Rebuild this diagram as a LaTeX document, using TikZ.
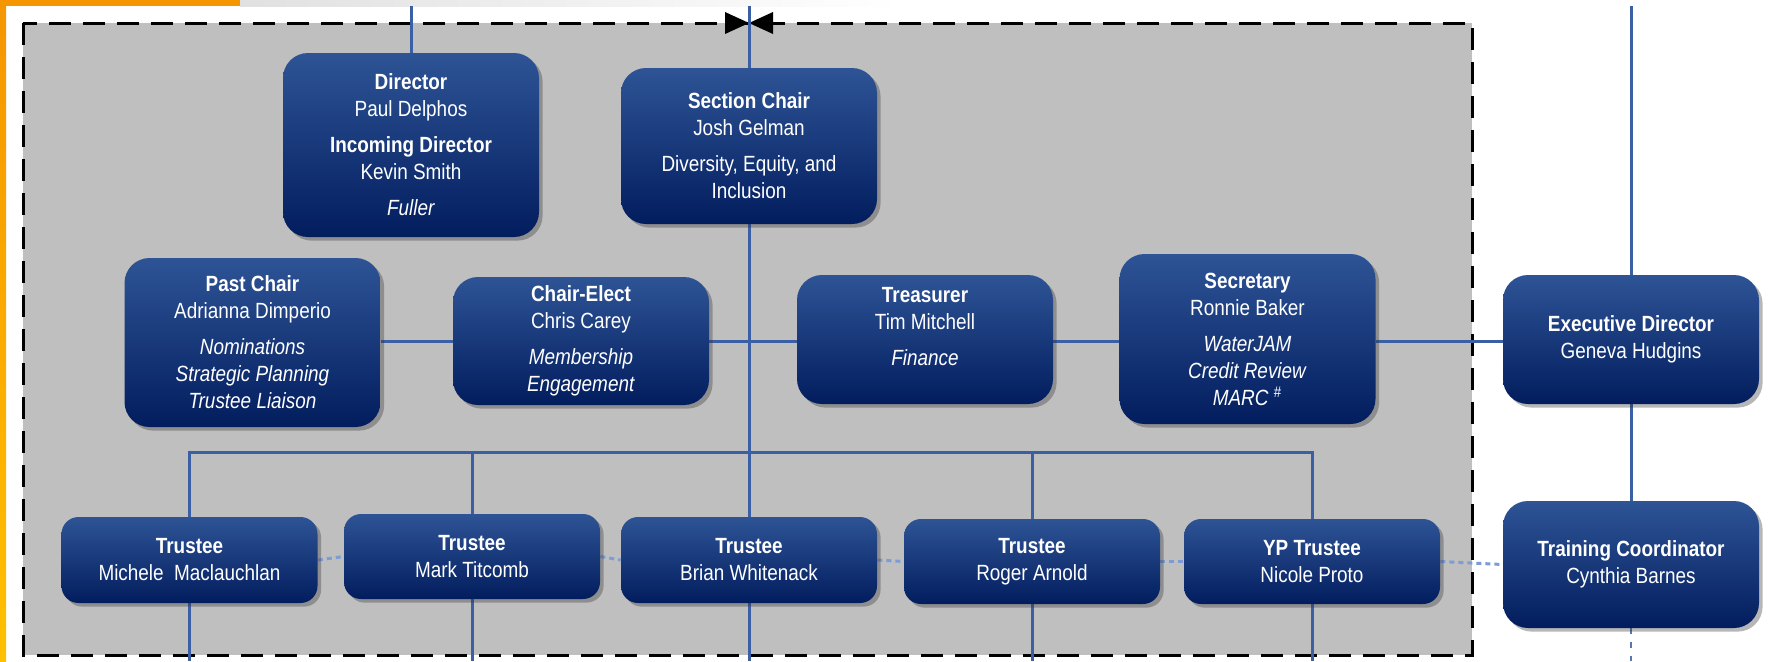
\documentclass[tikz,border=0pt]{standalone}
\usepackage{fontspec}
\setmainfont{Liberation Sans}[FakeStretch=0.86]
\usetikzlibrary{shadows}
\definecolor{boxtop}{RGB}{46,84,150}
\definecolor{boxbot}{RGB}{2,29,94}
\definecolor{linecol}{RGB}{58,95,165}
\definecolor{dotcol}{RGB}{125,155,212}
\definecolor{panel}{RGB}{191,191,191}
\definecolor{orng}{RGB}{245,150,0}
\definecolor{yel}{RGB}{255,192,0}
\pgfdeclarelayer{bg}
\pgfdeclarelayer{lines}
\pgfsetlayers{bg,lines,main}
\begin{document}
\begin{tikzpicture}[x=0.5pt,y=-0.5pt,
  orgbox/.style={rounded corners=12.5pt, top color=boxtop, bottom color=boxbot,
    draw=none, text=white, align=center, inner sep=0pt,
    font=\fontsize{11}{13.5}\selectfont, minimum width=128pt,
    drop shadow={shadow xshift=1.8pt,shadow yshift=-1.8pt,opacity=0.35,fill=black!80}},
  smallbox/.style={orgbox, rounded corners=8.5pt},
  conn/.style={draw=linecol, line width=1.5pt},
  dotline/.style={draw=dotcol, line width=1.5pt, dash pattern=on 2.5pt off 2pt},
  taildash/.style={draw=linecol!85, line width=0.9pt, dash pattern=on 3pt off 4pt},
  border/.style={draw=black, line width=1.5pt, dash pattern=on 11pt off 6pt}
]
\useasboundingbox (0,0) rectangle (1773,661);
\begin{pgfonlayer}{bg}
  \fill[white] (0,0) rectangle (1773,661);
  \shade[top color=orng, bottom color=yel] (0,0) rectangle (6,661);
  \fill[orng] (0,0) rectangle (240,6);
  \shade[left color=black!12, right color=white] (240,0) rectangle (900,6);
  \fill[panel] (23,23) rectangle (1472,655);
  \draw[border] (23,23) rectangle (1472,655);
\end{pgfonlayer}

% boxes
\node[orgbox, minimum height=92pt] (dir) at (411,145)
  {\textbf{Director}\\Paul Delphos\\[4.5pt]\textbf{Incoming Director}\\Kevin Smith\\[4.5pt]\textit{Fuller}};
\node[orgbox, minimum height=78pt] (sc) at (749,146)
  {\textbf{Section Chair}\\Josh Gelman\\[4.5pt]Diversity, Equity, and\\Inclusion};
\node[orgbox, minimum height=84.5pt] (past) at (252.5,342.5)
  {\textbf{Past Chair}\\Adrianna Dimperio\\[4.5pt]\textit{Nominations}\\\textit{Strategic Planning}\\\textit{Trustee Liaison}};
\node[orgbox, minimum height=64pt] (ce) at (581,341)
  {\textbf{Chair-Elect}\\Chris Carey\\[4.5pt]\textit{Membership}\\\textit{Engagement}};
\node[orgbox, minimum height=64.5pt] (tre) at (925,339.5)
  {\textbf{Treasurer}\\Tim Mitchell\\[4.5pt]\textit{Finance}\\\mbox{}};
\node[orgbox, minimum height=85pt] (sec) at (1247.5,339)
  {\textbf{Secretary}\\Ronnie Baker\\[4.5pt]\textit{WaterJAM}\\\textit{Credit Review}\\\textit{MARC}~\textsuperscript{\#}};
\node[orgbox, minimum height=64.5pt] (ex) at (1631,339.5)
  {\textbf{Executive Director}\\Geneva Hudgins};
\node[smallbox, minimum height=43pt] (t1) at (189.5,560)
  {\textbf{Trustee}\\Michele\ \ Maclauchlan};
\node[smallbox, minimum height=42.5pt] (t2) at (472,556.5)
  {\textbf{Trustee}\\Mark Titcomb};
\node[smallbox, minimum height=43pt] (t3) at (749,560)
  {\textbf{Trustee}\\Brian Whitenack};
\node[smallbox, minimum height=42.5pt] (t4) at (1032,561.5)
  {\textbf{Trustee}\\Roger Arnold};
\node[smallbox, minimum height=42.5pt] (t5) at (1312,561.5)
  {\textbf{YP Trustee}\\Nicole Proto};
\node[orgbox, minimum height=63.5pt] (tc) at (1631,564.5)
  {\textbf{Training Coordinator}\\Cynthia Barnes};

% free ends
\coordinate (dirIn) at (dir.north |- 0,6);
\coordinate (scIn) at (sc.north |- 0,6);
\coordinate (exIn) at (ex.north |- 0,6);
\coordinate (tcOut) at (tc.south |- 0,661);
\coordinate (hl) at (0,341);
\coordinate (bus) at (0,452);
\coordinate (b2) at (t2.north |- bus);
\coordinate (b4) at (t4.north |- bus);
\coordinate (b5) at (t5.north |- bus);
\coordinate (e1) at (t1.south |- 0,661);
\coordinate (e2) at (t2.south |- 0,661);
\coordinate (e3) at (t3.south |- 0,661);
\coordinate (e4) at (t4.south |- 0,661);
\coordinate (e5) at (t5.south |- 0,661);

\begin{pgfonlayer}{lines}
  % bow-tie marker on the top border
  \fill[black] (725,12) -- (749,23) -- (725,34) -- cycle;
  \fill[black] (773,12) -- (749,23) -- (773,34) -- cycle;
  \draw[conn] (dirIn) -- (dir.north);
  \draw[conn] (scIn) -- (sc.north);
  \draw[conn] (sc.south) -- (t3.north);
  \draw[conn] (past.east |- hl) -- (ce.west |- hl);
  \draw[conn] (ce.east |- hl) -- (tre.west |- hl);
  \draw[conn] (tre.east |- hl) -- (sec.west |- hl);
  \draw[conn] (sec.east |- hl) -- (ex.west |- hl);
  \draw[conn] (t1.north) |- (b5) -- (t5.north);
  \draw[conn] (b2) -- (t2.north);
  \draw[conn] (b4) -- (t4.north);
  \draw[conn] (t1.south) -- (e1);
  \draw[conn] (t2.south) -- (e2);
  \draw[conn] (t3.south) -- (e3);
  \draw[conn] (t4.south) -- (e4);
  \draw[conn] (t5.south) -- (e5);
  \draw[conn] (exIn) -- (ex.north);
  \draw[conn] (ex.south) -- (tc.north);
  \draw[taildash] (tc.south) -- (tcOut);
  \draw[dotline] (t1.east) -- (t2.west);
  \draw[dotline] (t2.east) -- (t3.west);
  \draw[dotline] (t3.east) -- (t4.west);
  \draw[dotline] (t4.east) -- (t5.west);
  \draw[dotline] (t5.east) -- (tc.west);
\end{pgfonlayer}
\end{tikzpicture}
\end{document}
